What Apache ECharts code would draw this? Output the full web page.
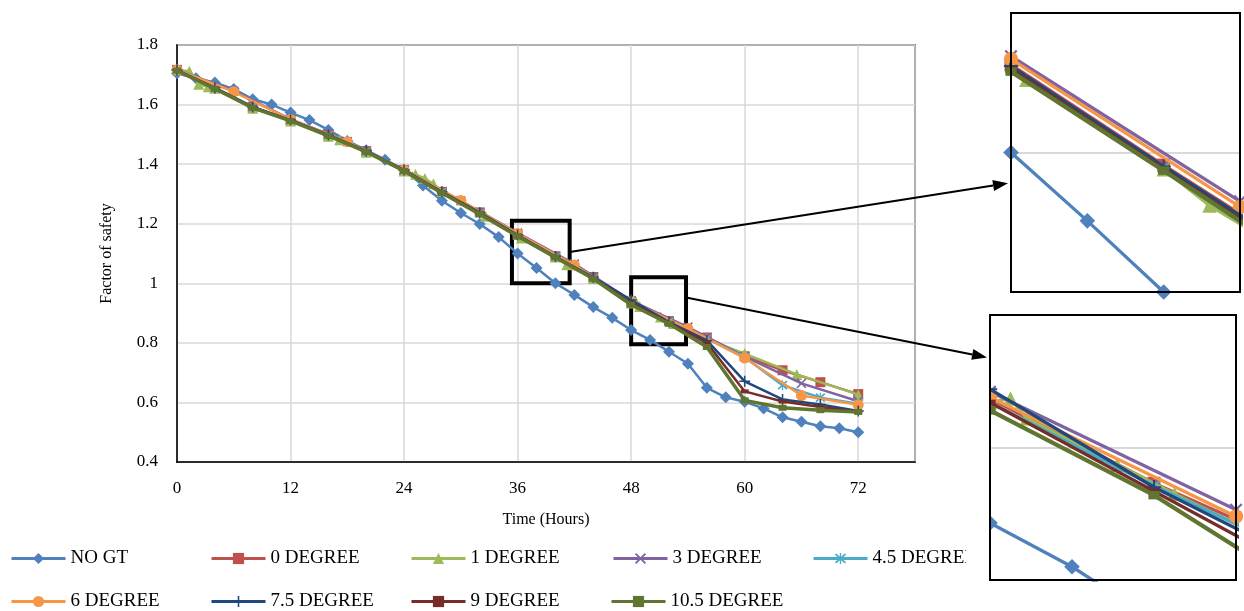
<!DOCTYPE html>
<html><head><meta charset="utf-8">
<script src="https://cdn.jsdelivr.net/npm/echarts@6/dist/echarts.min.js"></script>
<style>html,body{margin:0;padding:0;background:#fff}#c{width:1244px;height:611px}</style>
</head><body><div id="c"></div>
<script>
const seriesNames = ['NO GT','0 DEGREE','1 DEGREE','3 DEGREE','4.5 DEGREE','6 DEGREE','7.5 DEGREE','9 DEGREE','10.5 DEGREE'];
const xTicks = [0,12,24,36,48,60,72];
const yTicks = [0.4,0.6,0.8,1,1.2,1.4,1.6,1.8];

const hoursNoGT = [0,2,4,6,8,10,12,14,16,18,20,22,24,26,28,30,32,34,36,38,40,42,44,46,48,50,52,54,56,58,60,62,64,66,68,70,72];
const noGT = [1.705,1.688,1.674,1.652,1.618,1.600,1.573,1.548,1.515,1.478,1.447,1.415,1.380,1.328,1.277,1.236,1.199,1.155,1.100,1.051,1.000,0.961,0.920,0.884,0.843,0.810,0.770,0.730,0.649,0.617,0.602,0.580,0.550,0.535,0.520,0.513,0.500];

const hours4 = [0,4,8,12,16,20,24,28,32,36,40,44,48,52,56,60,64,68,72];
const deg0   = [1.716,1.656,1.592,1.548,1.498,1.444,1.380,1.307,1.238,1.163,1.091,1.021,0.937,0.873,0.818,0.755,0.708,0.668,0.628];
const deg45  = [1.716,1.656,1.592,1.548,1.498,1.444,1.380,1.307,1.236,1.161,1.089,1.018,0.934,0.871,0.814,0.752,0.658,0.616,0.596];
const deg75  = [1.716,1.656,1.592,1.548,1.498,1.444,1.380,1.307,1.237,1.162,1.090,1.020,0.944,0.870,0.808,0.671,0.610,0.593,0.571];
const deg9   = [1.715,1.655,1.591,1.547,1.497,1.443,1.379,1.306,1.235,1.160,1.088,1.017,0.934,0.867,0.800,0.637,0.603,0.585,0.569];
const deg105 = [1.714,1.653,1.589,1.545,1.495,1.441,1.377,1.303,1.232,1.158,1.087,1.015,0.928,0.864,0.786,0.607,0.582,0.574,0.568];

const hours6 = [0,6,12,18,24,30,36,42,48,54,60,66,72];
const deg3 = [1.718,1.645,1.551,1.476,1.382,1.277,1.169,1.065,0.942,0.853,0.754,0.664,0.604];
const deg6 = [1.717,1.643,1.550,1.475,1.381,1.278,1.167,1.061,0.938,0.848,0.749,0.623,0.592];

const hoursDeg1 = [0,1.3,2.3,3.3,4,8,12,16,17.2,20,24,25.2,26.2,27.1,28,32.6,36.4,40,41.2,44,48,48.5,48.9,51.1,52.5,56,60,65.5,72];
const deg1      = [1.716,1.712,1.668,1.660,1.655,1.588,1.545,1.494,1.482,1.440,1.377,1.366,1.352,1.334,1.308,1.225,1.152,1.088,1.062,1.016,0.934,0.937,0.922,0.887,0.865,0.812,0.764,0.694,0.626];

// zoomed windows (data coordinates) shown in the insets
const zoomBox1 = {x:[35.4,41.5], y:[1.0,1.21]};
const zoomBox2 = {x:[48,53.8], y:[0.795,1.02]};
const inset1Range = {x:[36,42], y:[1.0,1.2]};
const inset2Range = {x:[48,54], y:[0.8,1.0]};

const SYM_X = 'path://M0,1.2L1.2,0L5,3.8L8.8,0L10,1.2L6.2,5L10,8.8L8.8,10L5,6.2L1.2,10L0,8.8L3.8,5Z';
const SYM_PLUS = 'path://M4.3,0H5.7V4.3H10V5.7H5.7V10H4.3V5.7H0V4.3H4.3Z';
const SYM_STAR = 'path://M0,1.2L1.2,0L5,3.8L8.8,0L10,1.2L6.2,5L10,8.8L8.8,10L5,6.2L1.2,10L0,8.8L3.8,5ZM4.4,-0.5H5.6V10.5H4.4Z';

const defs = [
  {xs:hoursNoGT, ys:noGT,  color:'#4F81BD', symbol:'diamond', size:12, lw:2.5},
  {xs:hours4,   ys:deg0,   color:'#C0504D', symbol:'rect',    size:10, lw:2.5},
  {xs:hoursDeg1,ys:deg1,   color:'#9BBB59', symbol:'triangle',size:11, lw:2.5},
  {xs:hours6,   ys:deg3,   color:'#8064A2', symbol:SYM_X,     size:10, lw:2.5},
  {xs:hours4,   ys:deg45,  color:'#4BACC6', symbol:SYM_STAR,  size:10, lw:2.5},
  {xs:hours6,   ys:deg6,   color:'#F79646', symbol:'circle',  size:11, lw:2.5},
  {xs:hours4,   ys:deg75,  color:'#1F497D', symbol:SYM_PLUS,  size:11, lw:2.5},
  {xs:hours4,   ys:deg9,   color:'#772C2A', symbol:'rect',    size:[8,4], lw:2.5},
  {xs:hours4,   ys:deg105, color:'#5F7530', symbol:'rect',    size:[8,6], lw:3.5}
];
const FONT = 'Liberation Serif';
const INSET1 = {left:1011, top:13, width:229, height:279};
const INSET2 = {left:990, top:315, width:246, height:265};

function pairs(xs, ys){ return xs.map((x,i)=>[x, ys[i]]); }

const series = [];
defs.forEach((d,i)=>{
  const s = {
    name: seriesNames[i], type:'line', xAxisIndex:0, yAxisIndex:0,
    data: pairs(d.xs,d.ys), symbol:d.symbol, symbolSize:d.size, showAllSymbol:true,
    lineStyle:{color:d.color, width:d.lw}, itemStyle:{color:d.color, borderWidth:0},
    animation:false, z:2+i*0.01
  };
  if(i===0){
    s.markArea = {silent:true, itemStyle:{color:'rgba(0,0,0,0)', borderColor:'#000', borderWidth:4},
      data:[[{coord:[zoomBox1.x[0],zoomBox1.y[1]]},{coord:[zoomBox1.x[1],zoomBox1.y[0]]}],
            [{coord:[zoomBox2.x[0],zoomBox2.y[1]]},{coord:[zoomBox2.x[1],zoomBox2.y[0]]}]]};
  }
  series.push(s);
});
[1,2].forEach(g=>{
  defs.forEach((d,i)=>{
    const sz = Array.isArray(d.size) ? d.size.map(v=>v*1.4) : d.size*1.3;
    series.push({
      name: seriesNames[i], type:'line', xAxisIndex:g, yAxisIndex:g,
      data: pairs(d.xs,d.ys), symbol:d.symbol, symbolSize:sz, showAllSymbol:true,
      lineStyle:{color:d.color, width:d.lw+0.8}, itemStyle:{color:d.color, borderWidth:0},
      animation:false, z:6+i*0.01, clip:true
    });
  });
});

const legendPos = [[10,549],[210,549],[410,549],[612,549],[812,549],[10,592],[210,592],[410,592],[610,592]];
const legends = seriesNames.map((n,i)=>({
  data:[n], left:legendPos[i][0], top:legendPos[i][1], z:1, padding:0,
  itemWidth:54, itemHeight:14, itemGap:0,
  lineStyle:{width:3},
  textStyle:{fontFamily:FONT, fontSize:19, color:'#000'}
}));

const chart = echarts.init(document.getElementById('c'), null, {renderer:'canvas'});
const option = {
  backgroundColor:'#fff',
  animation:false,
  legend: legends,
  grid:[
    {left:177, top:45, width:738, height:417, show:true, borderColor:'#000', borderWidth:1.5, backgroundColor:'transparent', z:0},
    Object.assign({show:true, borderWidth:0, backgroundColor:'#fff', z:3}, INSET1),
    Object.assign({show:true, borderWidth:0, backgroundColor:'#fff', z:3}, INSET2)
  ],
  xAxis:[
    {gridIndex:0, type:'value', min:0, max:78, interval:12,
     axisLine:{show:true, lineStyle:{color:'#000', width:1.5}}, axisTick:{show:false},
     axisLabel:{margin:18, fontFamily:FONT, fontSize:17, color:'#000',
       formatter:v=> xTicks.includes(v) ? String(v) : ''},
     splitLine:{show:true, lineStyle:{color:'#d9d9d9', width:1.5}},
     name:'Time (Hours)', nameLocation:'middle', nameGap:50,
     nameTextStyle:{fontFamily:FONT, fontSize:16, color:'#000'}},
    {gridIndex:1, type:'value', min:inset1Range.x[0], max:inset1Range.x[1], show:false, splitLine:{show:false}},
    {gridIndex:2, type:'value', min:inset2Range.x[0], max:inset2Range.x[1], show:false, splitLine:{show:false}}
  ],
  yAxis:[
    {gridIndex:0, type:'value', min:0.4, max:1.8, interval:0.2,
     axisLine:{show:true, lineStyle:{color:'#000', width:1.5}}, axisTick:{show:false},
     axisLabel:{margin:19, fontFamily:FONT, fontSize:17, color:'#000',
       formatter:v=>{const r=Math.round(v*10)/10; return yTicks.includes(r)?String(r):'';}},
     splitLine:{show:true, lineStyle:{color:'#d9d9d9', width:1.5}},
     name:'Factor of safety', nameLocation:'middle', nameGap:62, nameRotate:90,
     nameTextStyle:{fontFamily:FONT, fontSize:16, color:'#000'}},
    {gridIndex:1, type:'value', min:inset1Range.y[0], max:inset1Range.y[1], interval:0.1, z:4,
     axisLine:{show:false}, axisTick:{show:false}, axisLabel:{show:false},
     splitLine:{show:true, lineStyle:{color:'#d9d9d9', width:2}}},
    {gridIndex:2, type:'value', min:inset2Range.y[0], max:inset2Range.y[1], interval:0.1, z:4,
     axisLine:{show:false}, axisTick:{show:false}, axisLabel:{show:false},
     splitLine:{show:true, lineStyle:{color:'#d9d9d9', width:2}}}
  ],
  series: series
};
chart.setOption(option);

// arrows from zoom boxes to insets
const arrows = [
  {from:[zoomBox1.x[1], 1.105], fromGrid:0, to:[inset1Range.x[0], 1.078], toGrid:1},
  {from:[zoomBox2.x[1], 0.952], fromGrid:0, to:[inset2Range.x[0], 0.968], toGrid:2}
];
const elements = [
  {type:'rect', shape:{x:INSET2.left-24, y:INSET2.top, width:24, height:INSET2.height+1}, style:{fill:'#fff'}, z:50, silent:true},
  {type:'rect', shape:{x:INSET1.left, y:INSET1.top, width:INSET1.width, height:INSET1.height}, style:{fill:null, stroke:'#000', lineWidth:2}, z:70, silent:true},
  {type:'rect', shape:{x:INSET2.left, y:INSET2.top, width:INSET2.width, height:INSET2.height}, style:{fill:null, stroke:'#000', lineWidth:2}, z:70, silent:true}
];
arrows.forEach(a=>{
  const p0 = chart.convertToPixel({xAxisIndex:a.fromGrid, yAxisIndex:a.fromGrid}, a.from);
  const p1r = chart.convertToPixel({xAxisIndex:a.toGrid, yAxisIndex:a.toGrid}, a.to);
  const p1 = [p1r[0]-3, p1r[1]];
  const dx = p1[0]-p0[0], dy = p1[1]-p0[1], len = Math.hypot(dx,dy);
  const ux = dx/len, uy = dy/len, nx = -uy, ny = ux;
  const L = 15, W = 5.5;
  const base = [p1[0]-L*ux, p1[1]-L*uy];
  elements.push({type:'line', shape:{x1:p0[0], y1:p0[1], x2:base[0], y2:base[1]}, style:{stroke:'#000', lineWidth:2}, z:60, silent:true});
  elements.push({type:'polygon', shape:{points:[p1,[base[0]+W*nx, base[1]+W*ny],[base[0]-W*nx, base[1]-W*ny]]}, style:{fill:'#000'}, z:60, silent:true});
});
chart.setOption({graphic:{elements}});
</script></body></html>
